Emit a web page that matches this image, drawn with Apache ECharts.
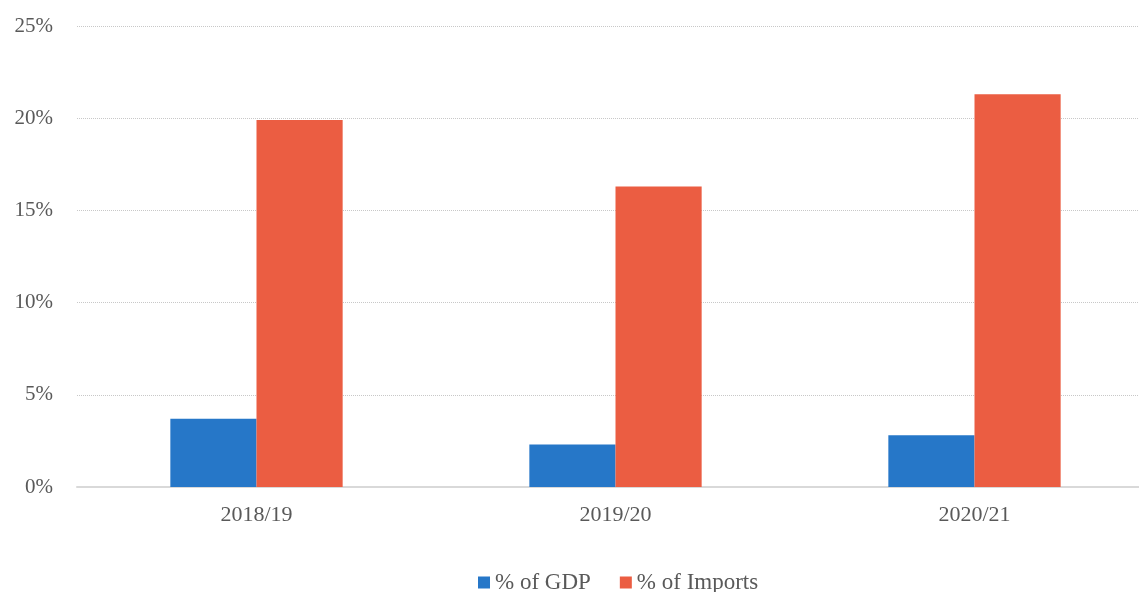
<!DOCTYPE html>
<html>
<head>
<meta charset="utf-8">
<script src="https://cdn.jsdelivr.net/npm/echarts@6/dist/echarts.min.js"></script>
<style>
  html, body { margin: 0; padding: 0; background: #fff; }
  #chart { width: 1139px; height: 592px; }
</style>
</head>
<body>
<div id="chart"></div>
<script>
const years = ['2018/19', '2019/20', '2020/21']
const gdpShare = [3.7, 2.3, 2.8]
const importShare = [19.9, 16.3, 21.3]

const font = '"Liberation Serif", "Times New Roman", serif'
const textColor = '#595959'

const chart = echarts.init(document.getElementById('chart'))

chart.setOption({
  animation: false,
  textStyle: { fontFamily: font },
  // plot area runs a little past the right edge, as in the source
  grid: { left: 77, width: 1077, top: 26, bottom: 105, outerBoundsMode: 'none', containLabel: false },
  legend: {
    top: 566,
    left: 473,
    itemWidth: 12,
    itemHeight: 12,
    itemGap: 29,
    icon: 'rect',
    textStyle: { fontFamily: font, fontSize: 23, color: textColor }
  },
  xAxis: {
    type: 'category',
    data: years,
    axisLine: { lineStyle: { color: '#d9d9d9', width: 2 } },
    axisTick: { show: false },
    axisLabel: { fontFamily: font, fontSize: 22, color: textColor, margin: 17 }
  },
  yAxis: {
    type: 'value',
    min: 0,
    max: 25,
    interval: 5,
    axisLabel: { formatter: '{value}%', fontFamily: font, fontSize: 21, color: textColor, margin: 24 },
    splitLine: { lineStyle: { type: 'dotted', color: '#c8c8c8', width: 1 } }
  },
  series: [
    {
      name: '% of GDP',
      type: 'bar',
      data: gdpShare,
      barGap: '0%',
      barCategoryGap: '52%',
      itemStyle: { color: '#2677c8' }
    },
    {
      name: '% of Imports',
      type: 'bar',
      data: importShare,
      itemStyle: { color: '#eb5d42' }
    }
  ]
})
</script>
</body>
</html>
